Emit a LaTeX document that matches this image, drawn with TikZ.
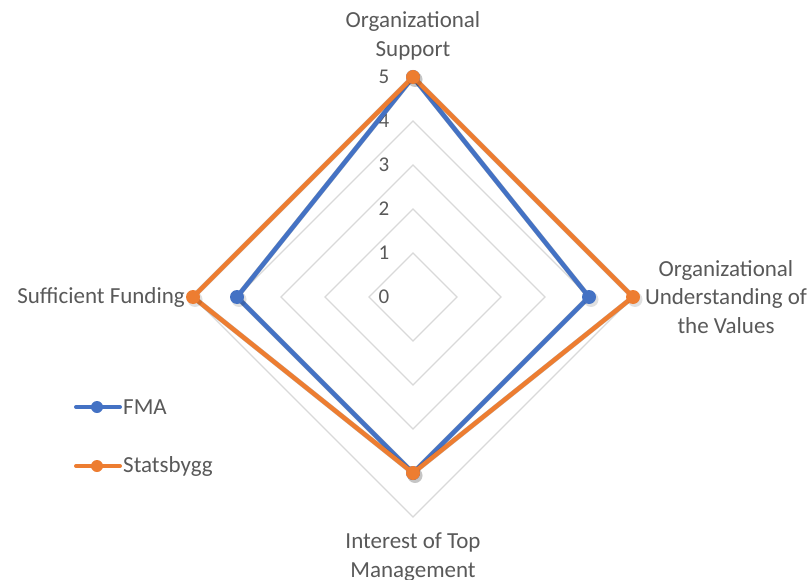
\documentclass[tikz,border=0pt]{standalone}
\usepackage{fontspec}
\setmainfont{Carlito}
\definecolor{fmablue}{HTML}{4472C4}
\definecolor{sborange}{HTML}{ED7D31}
\definecolor{gridgray}{HTML}{D9D9D9}
\definecolor{txtgray}{HTML}{595959}
\begin{document}
\begin{tikzpicture}[x=1pt,y=-1pt,
  gridline/.style={draw=gridgray,line width=1.3pt},
  ticklbl/.style={text=txtgray,font=\fontsize{21}{24}\selectfont,anchor=center,inner sep=0pt},
  catlbl/.style={text=txtgray,font=\fontsize{23}{28.5}\selectfont,align=center,inner sep=0pt},
  series/.style={line width=4.5pt,line join=round,line cap=round},
  shadowline/.style={draw=black,line width=5pt,line join=round,opacity=0.12},
  dot/.style={circle,inner sep=0pt,minimum size=14pt},
]
\useasboundingbox (0,0) rectangle (810,580);
\def\cx{413}\def\cy{297}\def\u{44}
% grid diamonds
\foreach \k in {1,...,5}{
  \draw[gridline] (\cx,\cy-\k*\u) -- (\cx+\k*\u,\cy) -- (\cx,\cy+\k*\u) -- (\cx-\k*\u,\cy) -- cycle;
}
% tick labels
\foreach \k in {0,...,5}{
  \node[ticklbl] (t\k) at (384,\cy-\k*\u) {\k};
}
% data coordinates
\coordinate (f1) at (\cx,\cy-5*\u);
\coordinate (f2) at (\cx+4*\u,\cy);
\coordinate (f3) at (\cx,\cy+4*\u);
\coordinate (f4) at (\cx-4*\u,\cy);
\coordinate (s1) at (\cx,\cy-5*\u);
\coordinate (s2) at (\cx+5*\u,\cy);
\coordinate (s3) at (\cx,\cy+4*\u);
\coordinate (s4) at (\cx-5*\u,\cy);
% FMA shadow + line
\foreach \o in {1.5,3}{
  \draw[shadowline,shift={(\o,\o+0.5)}] (f1) -- (f2) -- (f3) -- (f4) -- cycle;
}
\draw[series,fmablue] (f1) -- (f2) -- (f3) -- (f4) -- cycle;
\foreach \p in {f1,f2,f3,f4}{
  \fill[black,opacity=0.12] ([shift={(2,2.5)}]\p) circle (7.5pt);
  \node[dot,fill=fmablue] (m\p) at (\p) {};
}
% Statsbygg shadow + line
\foreach \o in {1.5,3}{
  \draw[shadowline,shift={(\o,\o+0.5)}] (s1) -- (s2) -- (s3) -- (s4) -- cycle;
}
\draw[series,sborange] (s1) -- (s2) -- (s3) -- (s4) -- cycle;
\foreach \p in {s1,s2,s3,s4}{
  \fill[black,opacity=0.12] ([shift={(2,2.5)}]\p) circle (7.5pt);
  \node[dot,fill=sborange] (m\p) at (\p) {};
}
% category labels
\node[catlbl] (c1) at (413,36) {Organizational\\Support};
\node[catlbl] (c2) at (726,297) {Organizational\\Understanding of\\the Values};
\node[catlbl] (c3) at (413,557) {Interest of Top\\Management};
\node[catlbl,anchor=east] (c4) at (185,297) {Sufficient Funding};
% legend
\coordinate (l1a) at (76,407); \coordinate (l1b) at (120,407);
\draw[fmablue,line width=4pt,line cap=round] (l1a) -- (l1b);
\node[dot,fill=fmablue,minimum size=12pt] (lm1) at (97,407) {};
\node[catlbl,anchor=west] (lt1) at (123,407) {FMA};
\coordinate (l2a) at (76,466); \coordinate (l2b) at (120,466);
\draw[sborange,line width=4pt,line cap=round] (l2a) -- (l2b);
\node[dot,fill=sborange,minimum size=12pt] (lm2) at (97,466) {};
\node[catlbl,anchor=west] (lt2) at (123,466) {Statsbygg};
\end{tikzpicture}
\end{document}
